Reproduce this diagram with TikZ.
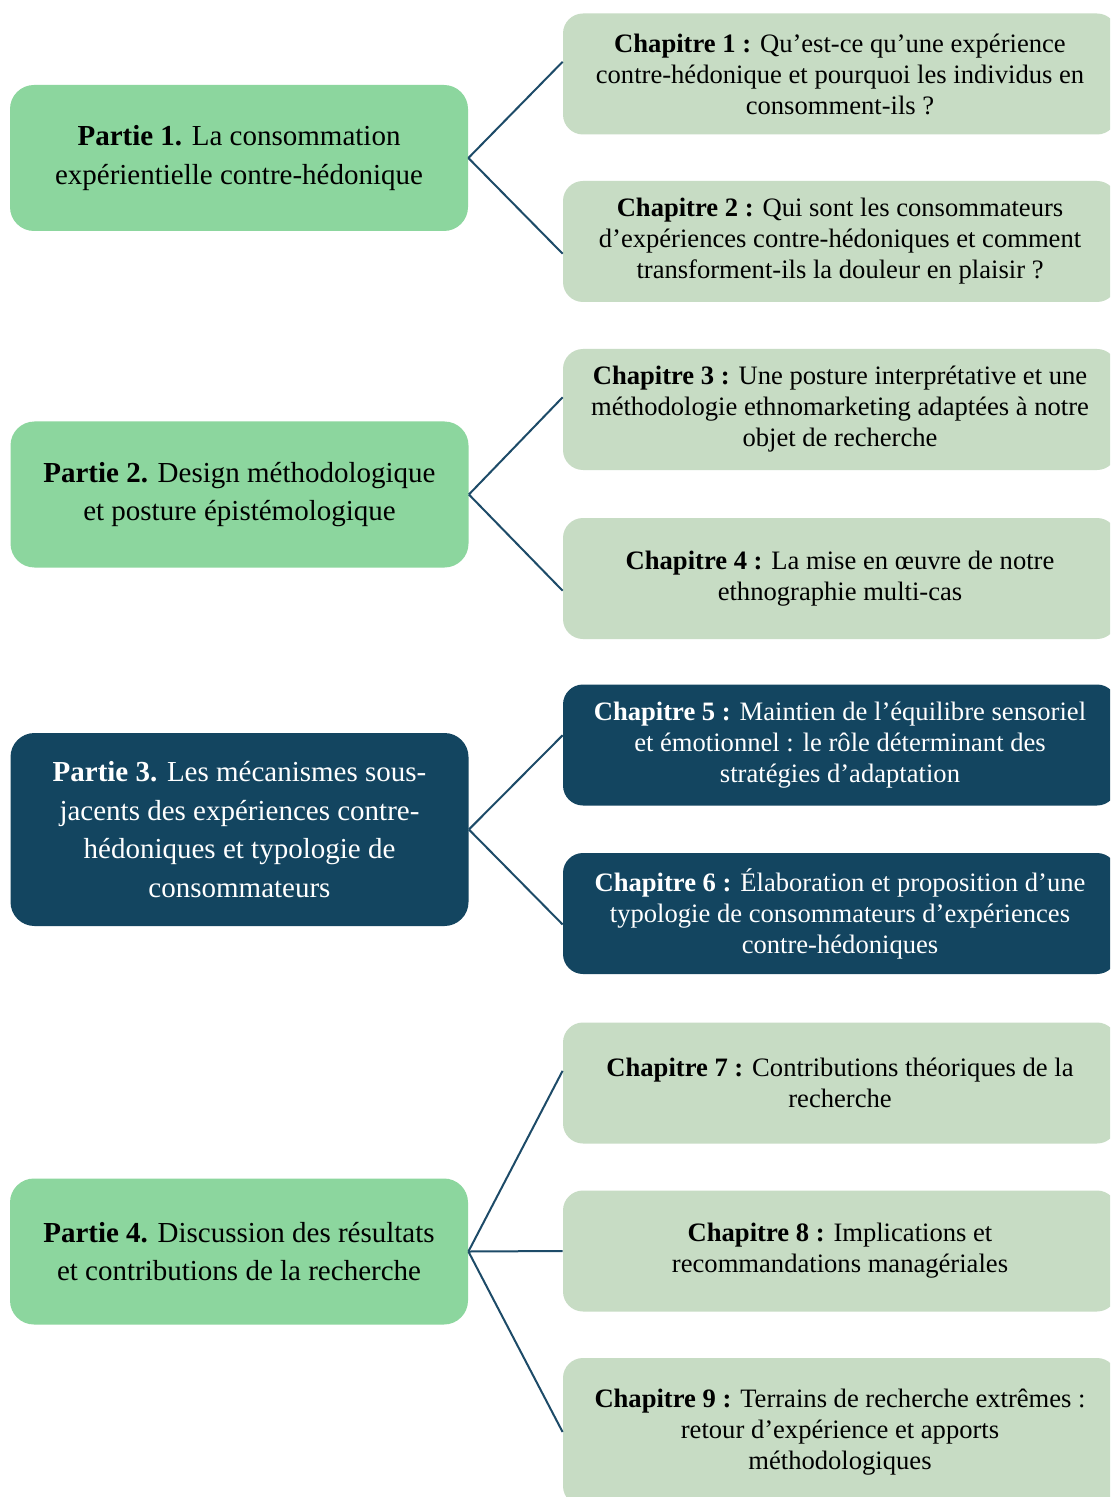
\documentclass[tikz,border=0pt]{standalone}
\usepackage{fontspec}
\setmainfont{Liberation Serif}
\usetikzlibrary{calc}
\definecolor{PartGreen}{HTML}{8CD69E}
\definecolor{ChapGreen}{HTML}{C7DCC4}
\definecolor{DeepTeal}{HTML}{134560}
\definecolor{LinkBlue}{HTML}{1D4B68}

\begin{document}
\begin{tikzpicture}[x=0.5pt,y=-0.5pt,
    partbox/.style={rounded corners=12pt,fill=PartGreen,minimum width=229pt,minimum height=73pt,align=center,font=\fontsize{14.5}{19.2}\selectfont},
    chapbox/.style={rounded corners=10pt,fill=ChapGreen,minimum width=277pt,minimum height=60.5pt,align=center,font=\fontsize{13.3}{15.5}\selectfont},
    darkbox/.style={fill=DeepTeal,text=white},
    link/.style={LinkBlue,line width=1pt}]
  \clip (0,0) rectangle (1110,1497);
  \fill[white] (0,0) rectangle (1110,1497);
  % parties
  \node[partbox] (p1) at (239,158) {\textbf{Partie 1.} La consommation\\expérientielle contre-hédonique};
  \node[partbox] (p2) at (239.5,494.5) {\textbf{Partie 2.} Design méthodologique\\et posture épistémologique};
  \node[partbox,darkbox,minimum height=96.5pt] (p3) at (239.5,829.5) {\textbf{Partie 3.} Les mécanismes sous-\\jacents des expériences contre-\\hédoniques et typologie de\\consommateurs};
  \node[partbox] (p4) at (239,1251.5) {\textbf{Partie 4.} Discussion des résultats\\et contributions de la recherche};
  % chapitres
  \node[chapbox] (c1) at (840,74) {\textbf{Chapitre 1 :} Qu’est-ce qu’une expérience\\contre-hédonique et pourquoi les individus en\\consomment-ils ?};
  \node[chapbox] (c2) at (840,241.5) {\textbf{Chapitre 2 :} Qui sont les consommateurs\\d’expériences contre-hédoniques et comment\\transforment-ils la douleur en plaisir ?};
  \node[chapbox] (c3) at (840,409.5) {\textbf{Chapitre 3 :} Une posture interprétative et une\\méthodologie ethnomarketing adaptées à notre\\objet de recherche};
  \node[chapbox] (c4) at (840,578.5) {\textbf{Chapitre 4 :} La mise en œuvre de notre\\ethnographie multi-cas};
  \node[chapbox,darkbox] (c5) at (840,745) {\textbf{Chapitre 5 :} Maintien de l’équilibre sensoriel\\et émotionnel : le rôle déterminant des\\stratégies d’adaptation};
  \node[chapbox,darkbox] (c6) at (840,913.5) {\textbf{Chapitre 6 :} Élaboration et proposition d’une\\typologie de consommateurs d’expériences\\contre-hédoniques};
  \node[chapbox] (c7) at (840,1083) {\textbf{Chapitre 7 :} Contributions théoriques de la\\recherche};
  \node[chapbox] (c8) at (840,1251) {\textbf{Chapitre 8 :} Implications et\\recommandations managériales};
  \node[chapbox,minimum height=74pt] (c9) at (840,1432) {\textbf{Chapitre 9 :} Terrains de recherche extrêmes :\\retour d’expérience et apports\\méthodologiques};
  % liens
  \draw[link] (p1.east) -- ($(c1.south west)!0.6!(c1.north west)$);
  \draw[link] (p1.east) -- ($(c2.south west)!0.4!(c2.north west)$);
  \draw[link] (p2.east) -- ($(c3.south west)!0.6!(c3.north west)$);
  \draw[link] (p2.east) -- ($(c4.south west)!0.4!(c4.north west)$);
  \draw[link] (p3.east) -- ($(c5.south west)!0.58!(c5.north west)$);
  \draw[link] (p3.east) -- ($(c6.south west)!0.41!(c6.north west)$);
  \draw[link] (p4.east) -- ($(c7.south west)!0.6!(c7.north west)$);
  \draw[link] (p4.east) -- (c8.west);
  \draw[link] (p4.east) -- (c9.west);
\end{tikzpicture}
\end{document}
